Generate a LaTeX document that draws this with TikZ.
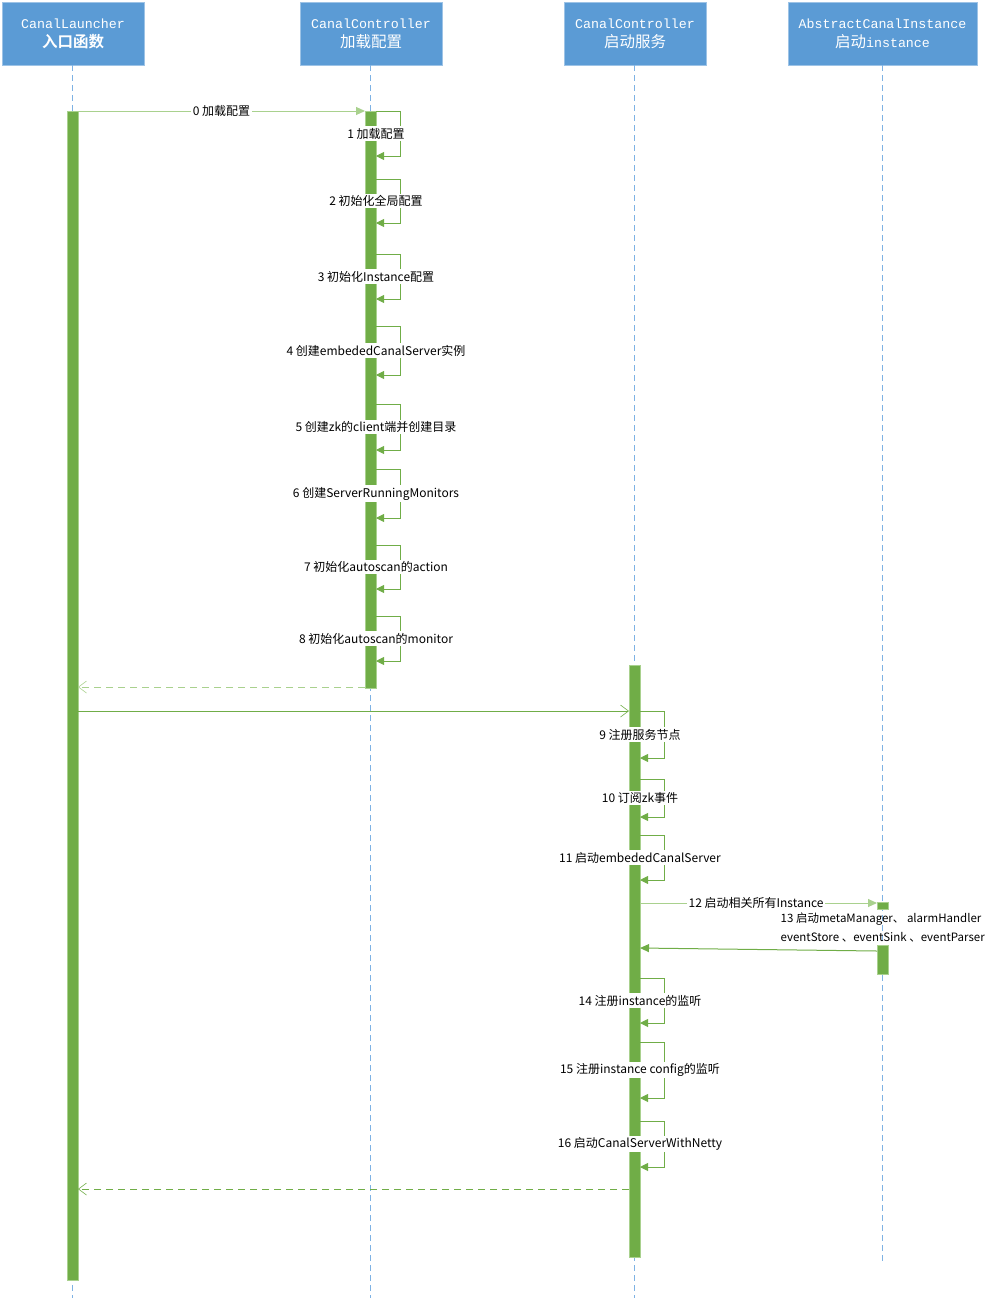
\documentclass[tikz,border=0pt]{standalone}
\usepackage{fontspec}
\setmainfont{Noto Sans CJK SC}
\newfontfamily\cjkfont{Noto Sans CJK SC}
\newfontfamily\cjkbold{Noto Sans CJK SC Bold}
\newfontfamily\hmono{Liberation Mono}
\usetikzlibrary{arrows.meta}
\definecolor{hdrblue}{HTML}{5B9BD5}
\definecolor{lineblue}{HTML}{7EB2E4}
\definecolor{grn}{HTML}{70AD47}
\definecolor{lgrn}{HTML}{A9D18E}
\tikzset{
  hdr/.style={draw=hdrblue!60, fill=hdrblue, inner sep=0pt, minimum height=63pt},
  hline1/.style={text=white, inner sep=0pt, font=\fontsize{13.3}{15}\hmono},
  hline2/.style={text=white, inner sep=0pt, font=\fontsize{15.5}{17}\cjkfont},
  life/.style={draw=lineblue, line width=0.8pt, dash pattern=on 6pt off 4pt},
  actbar/.style={draw=lgrn, line width=0.4pt, fill=grn, minimum width=11pt, inner sep=0pt, anchor=north},
  lbl/.style={fill=white, inner sep=1.5pt, text=black, font=\fontsize{12}{14}\selectfont},
  selfmsg/.style={draw=grn, line width=0.9pt, -{Triangle[length=8pt,width=8pt]}},
  callmsg/.style={draw=#1, line width=1pt, -{Triangle[length=9pt,width=8pt]}},
  openmsg/.style={draw=grn, line width=0.9pt, -{Straight Barb[length=8pt,width=12pt,line width=0.6pt]}},
  retmsg/.style={draw=#1, line width=1pt, dash pattern=on 7pt off 5pt, -{Straight Barb[length=8pt,width=12pt,line width=0.6pt]}},
}
\begin{document}
\begin{tikzpicture}[x=1pt,y=-1pt]
\useasboundingbox (0,0) rectangle (996,1304);
% headers
\node[hdr, minimum width=142pt] (h1) at (73,33.5) {};
\node[hdr, minimum width=142pt] (h2) at (371,33.5) {};
\node[hdr, minimum width=142pt] (h3) at (635,33.5) {};
\node[hdr, minimum width=189pt] (h4) at (882.5,33.5) {};
\node[hline1] (h1a) at ([yshift=9.5pt]h1.center) {CanalLauncher};
\node[hline2, font=\fontsize{15.5}{17}\cjkbold] (h1b) at ([yshift=-8.5pt]h1.center) {入口函数};
\node[hline1] (h2a) at ([yshift=9.5pt]h2.center) {CanalController};
\node[hline2] (h2b) at ([yshift=-8.5pt]h2.center) {加载配置};
\node[hline1] (h3a) at ([yshift=9.5pt]h3.center) {CanalController};
\node[hline2] (h3b) at ([yshift=-8.5pt]h3.center) {启动服务};
\node[hline1] (h4a) at ([yshift=9.5pt]h4.center) {AbstractCanalInstance};
\node[hline2] (h4b) at ([yshift=-8.5pt]h4.center) {启动{\fontsize{13.3}{15}\hmono instance}};
% lifelines
\coordinate (e1) at (72,1298);
\coordinate (e2) at (370,1298);
\coordinate (e3) at (634,1298);
\coordinate (e4) at (882,1262);
\draw[life] (h1.south -| e1) -- (e1);
\draw[life] (h2.south -| e2) -- (e2);
\draw[life] (h3.south -| e3) -- (e3);
\draw[life] (h4.south -| e4) -- (e4);
% activation bars
\node[actbar, minimum height=1169pt] (b1) at (72.5,111) {};
\node[actbar, minimum height=577pt] (b2) at (370.5,111) {};
\node[actbar, minimum height=592pt] (b3) at (634.5,665) {};
\node[actbar, minimum height=7pt] (b4a) at (882.5,902) {};
\node[actbar, minimum height=29pt] (b4b) at (882.5,945) {};
% message 0
\coordinate (m0s) at (78,111);
\coordinate (m0e) at (365,111);
\draw[callmsg=lgrn] (m0s) -- node[lbl] (l0) {0 加载配置} (m0e);
% self messages on lifeline 2
\foreach \t/\b/\txt [count=\i] in {111/156/1 加载配置, 179/223/2 初始化全局配置, 254/299/3 初始化Instance配置, 326/375/4 创建embededCanalServer实例, 404/450/5 创建zk的client端并创建目录, 469/518/6 创建ServerRunningMonitors, 545/589/7 初始化autoscan的action, 616/661/8 初始化autoscan的monitor}{
  \coordinate (s2a\i) at (376,\t);
  \coordinate (s2b\i) at (400,\t);
  \coordinate (s2c\i) at (400,\b);
  \coordinate (s2d\i) at (376,\b);
  \draw[selfmsg] (s2a\i) -- (s2b\i) -- (s2c\i) -- (s2d\i);
  \node[lbl] (l2\i) at (376,{(\t+\b)/2}) {\txt};
}
% return to launcher
\coordinate (r1s) at (365,687);
\coordinate (r1e) at (78,687);
\draw[retmsg=lgrn] (r1s) -- (r1e);
% call to lifeline 3
\coordinate (m2s) at (78,711);
\coordinate (m2e) at (629,711);
\draw[openmsg] (m2s) -- (m2e);
% self messages on lifeline 3 (first group)
\foreach \t/\b/\txt [count=\i] in {711/758/9 注册服务节点, 779/817/10 订阅zk事件, 835/880/11 启动embededCanalServer}{
  \coordinate (s3a\i) at (640,\t);
  \coordinate (s3b\i) at (664,\t);
  \coordinate (s3c\i) at (664,\b);
  \coordinate (s3d\i) at (640,\b);
  \draw[selfmsg] (s3a\i) -- (s3b\i) -- (s3c\i) -- (s3d\i);
  \node[lbl] (l3\i) at (640,{(\t+\b)/2}) {\txt};
}
% message 12
\coordinate (m12s) at (640,903);
\coordinate (m12e) at (877,903);
\draw[callmsg=lgrn] (m12s) -- node[lbl, pos=0.49] (l12) {12 启动相关所有Instance} (m12e);
\node[lbl, anchor=west, align=left, fill=none, font=\fontsize{11.5}{19}\selectfont] (l13) at (779,927.5) {13 启动metaManager、 alarmHandler\\eventStore 、eventSink 、eventParser};
% return from instance
\coordinate (r2s) at (877,951);
\coordinate (r2e) at (640,948);
\draw[callmsg=grn] (r2s) -- (r2e);
% self messages on lifeline 3 (second group)
\foreach \t/\b/\txt [count=\i] in {978/1023/14 注册instance的监听, 1042/1098/15 注册instance config的监听, 1121/1167/16 启动CanalServerWithNetty}{
  \coordinate (s4a\i) at (640,\t);
  \coordinate (s4b\i) at (664,\t);
  \coordinate (s4c\i) at (664,\b);
  \coordinate (s4d\i) at (640,\b);
  \draw[selfmsg] (s4a\i) -- (s4b\i) -- (s4c\i) -- (s4d\i);
  \node[lbl] (l4\i) at (640,{(\t+\b)/2}) {\txt};
}
% final return
\coordinate (r3s) at (629,1189);
\coordinate (r3e) at (78,1189);
\draw[retmsg=grn] (r3s) -- (r3e);
\end{tikzpicture}
\end{document}
